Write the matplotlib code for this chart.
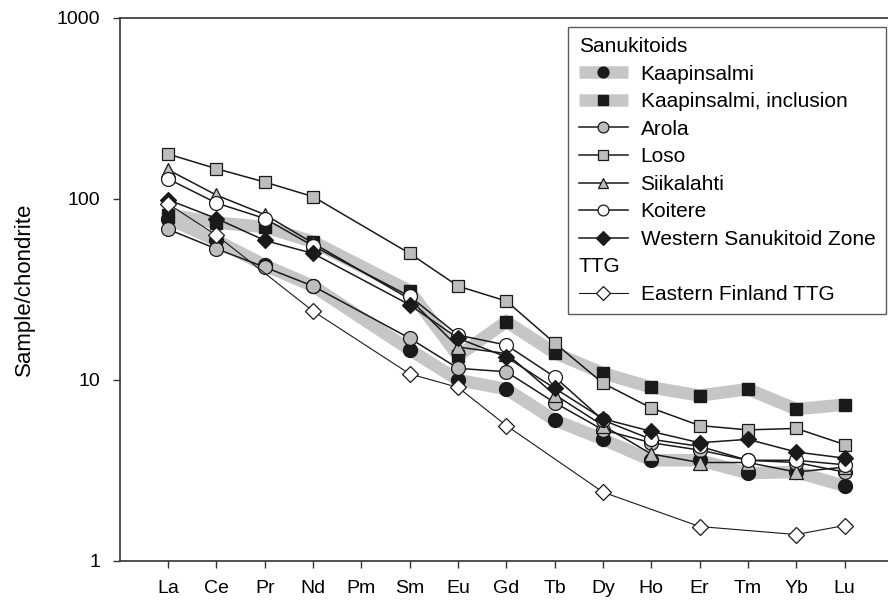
import numpy as np
import matplotlib
matplotlib.use("Agg")
import matplotlib.pyplot as plt

plt.rcParams['font.family'] = ['Liberation Sans', 'DejaVu Sans']

# REE normalized to chondrite (Pm not analysed -> nan)
elements = ["La", "Ce", "Pr", "Nd", "Pm", "Sm", "Eu", "Gd", "Tb", "Dy", "Ho", "Er", "Tm", "Yb", "Lu"]
nan = np.nan

kaapinsalmi = [78, 59, 43, 33, nan, 14.7, 10.0, 8.9, 6.0, 4.7, 3.6, 3.6, 3.06, 3.1, 2.6]
kaapinsalmi_incl = [82, 74, 70, 58, nan, 31, 13.6, 21, 14.1, 10.9, 9.1, 8.2, 8.9, 6.9, 7.3]
arola = [68, 53, 42, 33, nan, 17, 11.6, 11.1, 7.5, 5.3, 4.5, 4.1, 3.6, 3.5, 3.1]
loso = [177, 147, 124, 103, nan, 50, 33, 27.3, 16.0, 9.6, 7.0, 5.6, 5.3, 5.4, 4.4]
siikalahti = [145, 105, 82, 57, nan, 28, 15.2, 14, 8.3, 5.6, 3.9, 3.5, 3.5, 3.1, 3.3]
koitere = [129, 95, 78, 55, nan, 29, 17.7, 15.6, 10.4, 6.0, 4.7, 4.3, 3.6, 3.6, 3.4]
western_sz = [99, 78, 59, 50, nan, 26, 17, 13.4, 9.0, 6.1, 5.2, 4.5, 4.7, 4.0, 3.7]
ttg = [94, 63, nan, 24, nan, 10.8, 9.1, 5.6, nan, 2.4, nan, 1.55, nan, 1.4, 1.57]

x = np.arange(1, len(elements) + 1)


def plot_series(ax, values, **kw):
    v = np.array(values, dtype=float)
    ok = ~np.isnan(v)
    return ax.plot(x[ok], v[ok], **kw)[0]


fig = plt.figure(figsize=(8.88, 6.06), dpi=100)
ax = fig.add_axes([0.135, 0.0743, 0.865, 0.896])

band = '#c6c6c6'
grey = '#bdbdbd'
dark = '#1a1a1a'

h = {}
h['Kaapinsalmi'] = plot_series(ax, kaapinsalmi, color=band, lw=9, solid_joinstyle='miter',
                               solid_capstyle='butt', marker='o', ms=10, mfc=dark, mec=dark)
h['Kaapinsalmi, inclusion'] = plot_series(ax, kaapinsalmi_incl, color=band, lw=9, solid_joinstyle='miter',
                                          solid_capstyle='butt', marker='s', ms=9, mfc=dark, mec=dark)
thin = dict(color=dark, lw=1.1, mec=dark, mew=0.9)
h['Arola'] = plot_series(ax, arola, marker='o', ms=10, mfc=grey, **thin)
h['Loso'] = plot_series(ax, loso, marker='s', ms=9, mfc=grey, **thin)
h['Siikalahti'] = plot_series(ax, siikalahti, marker='^', ms=10, mfc=grey, **thin)
h['Koitere'] = plot_series(ax, koitere, marker='o', ms=10, mfc='white', **thin)
h['Western Sanukitoid Zone'] = plot_series(ax, western_sz, marker='D', ms=8.5, mfc=dark, **thin)
h['Eastern Finland TTG'] = plot_series(ax, ttg, color=dark, lw=0.8, marker='D', ms=8.5,
                                       mfc='white', mec=dark, mew=0.9)

ax.set_yscale('log')
ax.set_ylim(1, 1000)
ax.set_xlim(0, 15.9)
ax.set_yticks([1, 10, 100, 1000])
ax.set_yticklabels(['1', '10', '100', '1000'])
ax.yaxis.set_minor_locator(matplotlib.ticker.NullLocator())
ax.set_xticks(x)
ax.set_xticklabels(elements)
ax.tick_params(direction='out', length=5, width=1, labelsize=14, color='#333333')
ax.tick_params(axis='x', pad=9)
ax.tick_params(axis='y', pad=9)
ax.set_ylabel('Sample/chondrite', fontsize=16, labelpad=16)
ax.spines['right'].set_visible(False)
for s in ['left', 'top', 'bottom']:
    ax.spines[s].set_linewidth(1.2)
    ax.spines[s].set_color('#333333')

# legend with two group headers
blank = plt.Line2D([], [], color='none')
order = ['Kaapinsalmi', 'Kaapinsalmi, inclusion', 'Arola', 'Loso', 'Siikalahti',
         'Koitere', 'Western Sanukitoid Zone']
handles = [blank] + [h[k] for k in order] + [blank, h['Eastern Finland TTG']]
labels = ['Sanukitoids'] + order + ['TTG', 'Eastern Finland TTG']
leg = ax.legend(handles, labels, loc='upper right', bbox_to_anchor=(0.997, 0.984),
                borderaxespad=0, fontsize=15, frameon=True, fancybox=False,
                edgecolor='#333333', handlelength=2.35, handletextpad=0.62,
                labelspacing=0.41, borderpad=0.5, markerscale=0.78)
leg.get_frame().set_linewidth(1.0)
for vp in leg._legend_handle_box.get_children():
    for hp in vp.get_children():
        da, ta = hp.get_children()
        if ta.get_text() in ('Sanukitoids', 'TTG'):
            da.width = 0
            hp.sep = 0

fig.savefig('out.png', dpi=100)
